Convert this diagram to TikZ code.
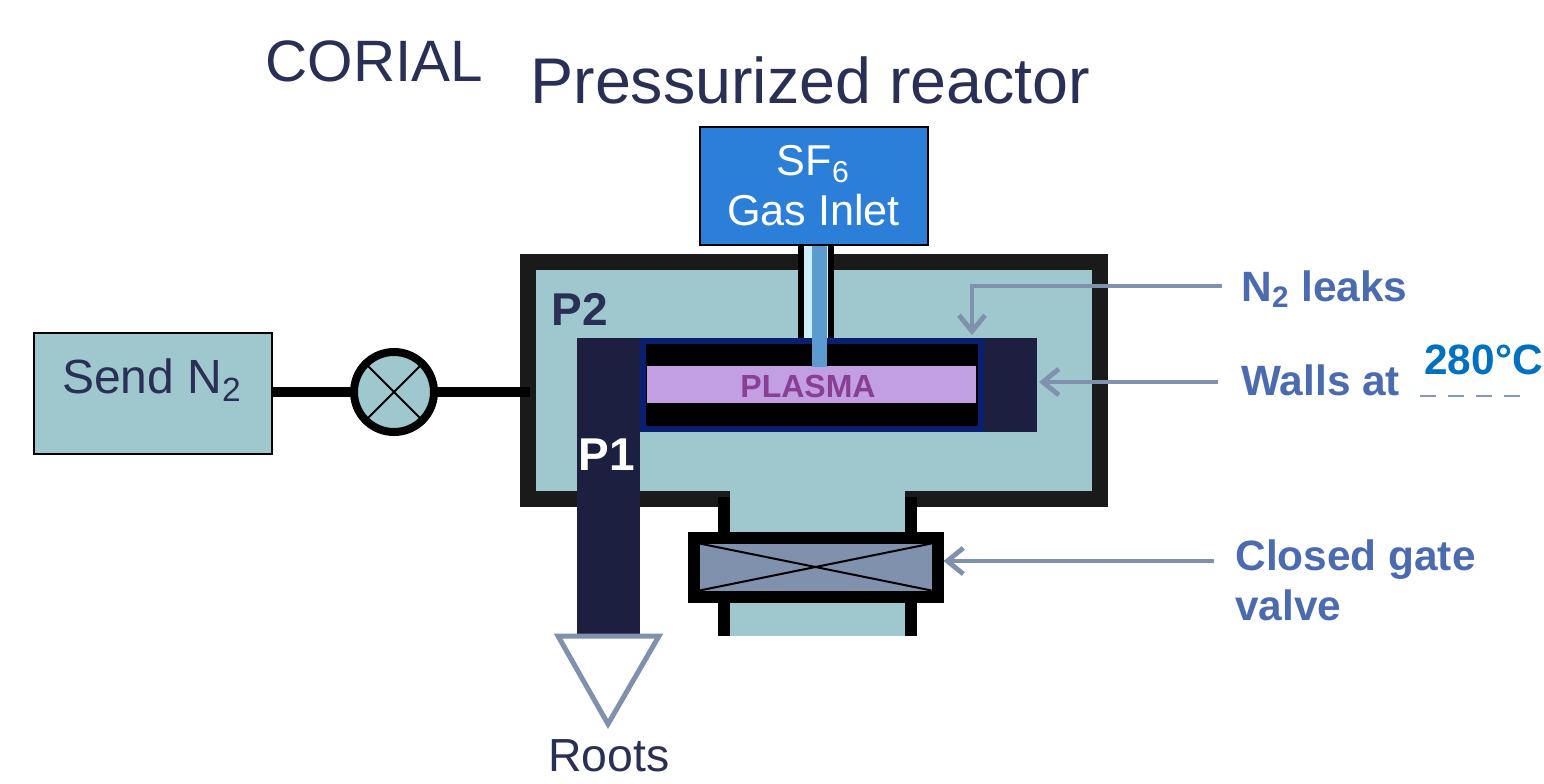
\documentclass[tikz,border=0pt]{standalone}
\usepackage{fontspec}
\setmainfont{Liberation Sans}
\usepackage{xcolor}
\usetikzlibrary{arrows.meta, positioning, calc}
\definecolor{gasteal}{HTML}{9EC7CE}
\definecolor{wallblack}{HTML}{1A1A1A}
\definecolor{pumpnavy}{HTML}{1C1F40}
\definecolor{framenavy}{HTML}{0A1F6F}
\definecolor{plasmalilac}{HTML}{C29FE2}
\definecolor{plasmaink}{HTML}{8A3F96}
\definecolor{inletblue}{HTML}{2B7FD9}
\definecolor{feedblue}{HTML}{5B9BD0}
\definecolor{tubepale}{HTML}{CFF0FB}
\definecolor{greyblue}{HTML}{8091AD}
\definecolor{labelblue}{HTML}{4A6BB0}
\definecolor{tempblue}{HTML}{0070C0}
\definecolor{titleink}{HTML}{2A2F55}

\begin{document}
\begin{tikzpicture}[
    x=0.5pt, y=-0.5pt,
    tealbox/.style={rectangle, draw=black, fill=gasteal, line width=1pt, inner sep=0pt},
    inletbox/.style={rectangle, draw=black, fill=inletblue, line width=1pt, inner sep=0pt, text=white, align=center},
    valvesym/.style={circle, draw=black, fill=gasteal, line width=4pt, inner sep=0pt, minimum size=40pt},
    gatebox/.style={rectangle, draw=black, fill=greyblue, line width=6pt, inner sep=0pt},
    pipe/.style={line width=5pt, black},
    arrow/.style={line width=2.4pt, greyblue, -{Straight Barb[length=8pt, width=13pt, line width=2.4pt]}},
    title/.style={text=titleink, inner sep=0pt, anchor=west},
    side/.style={text=labelblue, font=\fontsize{21.2}{25}\selectfont\bfseries, inner sep=0pt, anchor=west}
]
\useasboundingbox (0,0) rectangle (1544,783);

% Titles
\node[title, font=\fontsize{32.3}{38}\selectfont] (reactor) at (530,80) {Pressurized reactor};
\node[title, font=\fontsize{29.2}{34}\selectfont] (corial) at (265,61) {CORIAL};

% Chamber body and neck
\fill[gasteal] (528,262) rectangle (1100,499);
\fill[gasteal] (730,491) rectangle (905,636);
\draw[wallblack, line width=8pt] (730,499) -- (528,499) -- (528,262) -- (1100,262) -- (1100,499) -- (905,499);
\draw[black, line width=6pt] (724,497) -- (724,636);
\draw[black, line width=6pt] (911,497) -- (911,636);

% Gas feed tube
\fill[black] (798,245) rectangle (834,338);
\fill[tubepale] (804,245) rectangle (828,338);

% Pump line and hot block
\fill[pumpnavy] (577,338) rectangle (640,636);
\fill[pumpnavy] (984,338) rectangle (1037,432);
\coordinate (blockedge) at (1039,382);

% Plasma cell
\node[rectangle, draw=framenavy, fill=black, line width=3pt, inner sep=0pt, minimum width=169pt, minimum height=44pt] (cell) at (812,385) {};
\fill[plasmalilac] (647,366) rectangle (976,403);
\fill[feedblue] (812,245) rectangle (827,367);
\node[text=plasmaink, font=\fontsize{16}{19}\selectfont\bfseries, inner sep=0pt] (plasma) at (808,386) {PLASMA};
\coordinate (celltop) at (972,335);

% Pressures
\node[text=titleink, font=\fontsize{23}{27}\selectfont\bfseries, inner sep=0pt] (ptwo) at (580,309) {P2};
\node[text=white, font=\fontsize{23}{27}\selectfont\bfseries, inner sep=0pt] (pone) at (607,455) {P1};

% Gas inlet
\node[inletbox, minimum width=114pt, minimum height=59pt, font=\fontsize{21.6}{25}\selectfont] (inlet) at (813.5,185.5) {SF\textsubscript{6}\\Gas Inlet};

% Nitrogen line
\node[tealbox, minimum width=119pt, minimum height=60.5pt] (send) at (152.5,393) {};
\node[text=titleink, font=\fontsize{24}{28}\selectfont, inner sep=0pt] (sendtxt) at (152,380) {Send N\textsubscript{2}};
\node[valvesym] (needle) at (394,392) {};
\draw[black, line width=1pt] (needle.45) -- (needle.225);
\draw[black, line width=1pt] (needle.135) -- (needle.315);
\coordinate (port) at (530,392);
\draw[pipe] (send.east |- needle) -- (needle.west);
\draw[pipe] (needle.east) -- (port);

% Gate valve
\node[gatebox, minimum width=122pt, minimum height=29.5pt] (gate) at (815.5,567) {};
\draw[black, line width=1pt] ($(gate.north west)+(6pt,-6pt)$) -- ($(gate.south east)+(-6pt,6pt)$);
\draw[black, line width=1pt] ($(gate.south west)+(6pt,6pt)$) -- ($(gate.north east)+(-6pt,-6pt)$);

% Roots pump
\node[text=titleink, font=\fontsize{23.2}{27}\selectfont, inner sep=0pt] (roots) at (609,756) {Roots};
\draw[greyblue, line width=2.5pt, fill=white] (558,636) -- (659,636) -- (608,724) -- cycle;

% Side labels
\node[side] (leaks) at (1241,289) {N\textsubscript{2} leaks};
\node[side] (walls) at (1241,380) {Walls at};
\node[side, text=tempblue] (temp) at (1424,360) {280°C};
\draw[labelblue!70, line width=1pt, dash pattern=on 8pt off 6pt] (1420,396) -- (1530,396);
\node[side, align=left] (closed) at (1235,580) {Closed gate\\valve};

% Arrows
\coordinate (leakstart) at (1222,286);
\coordinate (wallstart) at (1218,382);
\coordinate (gatestart) at (1214,561);
\draw[arrow] (leakstart) -| (celltop);
\draw[arrow] (wallstart) -- (blockedge);
\draw[arrow] (gatestart) -- (gate.east |- gatestart);

\end{tikzpicture}
\end{document}
